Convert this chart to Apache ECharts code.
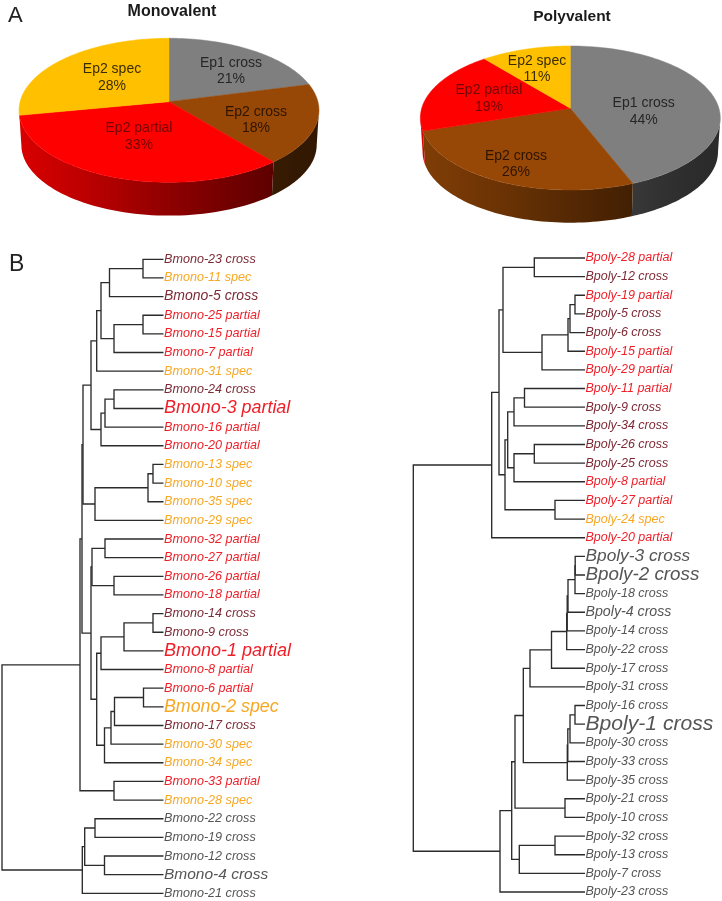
<!DOCTYPE html>
<html>
<head>
<meta charset="utf-8">
<style>html,body{margin:0;padding:0;background:#fff}#main{width:722px;height:901px}</style>
<script src="https://cdn.jsdelivr.net/npm/echarts@6/dist/echarts.min.js"></script>
</head>
<body>
<div id="main"></div>
<script>
// ---------- data ----------
const sliceNames = ['Ep1 cross', 'Ep2 cross', 'Ep2 partial', 'Ep2 spec'];
const monovalentShares = [21, 18, 33, 28];
const polyvalentShares = [44, 26, 19, 11];

// Dendrograms: [branch position, upper child, lower child]; a string is a leaf.
const monoTree = [0,
  [78,
    [80,
      [81,
        [89,
          [94.7,
            [99,
              [107.5, [141, 'Bmono-23 cross', 'Bmono-11 spec'], 'Bmono-5 cross'],
              [112, [141, 'Bmono-25 partial', 'Bmono-15 partial'], 'Bmono-7 partial']],
            'Bmono-31 spec'],
          [99,
            [103, [112, 'Bmono-24 cross', 'Bmono-3 partial'], 'Bmono-16 partial'],
            'Bmono-20 partial']],
        [93, [146, [151, 'Bmono-13 spec', 'Bmono-10 spec'], 'Bmono-35 spec'], 'Bmono-29 spec']],
      [89,
        [90, [103, 'Bmono-32 partial', 'Bmono-27 partial'], [112, 'Bmono-26 partial', 'Bmono-18 partial']],
        [94.7,
          [99, [122, [151, 'Bmono-14 cross', 'Bmono-9 cross'], 'Bmono-1 partial'], 'Bmono-8 partial'],
          [102.5,
            [109, [112.5, [141.5, 'Bmono-6 partial', 'Bmono-2 spec'], 'Bmono-17 cross'], 'Bmono-30 spec'],
            'Bmono-34 spec']]]],
    [112, 'Bmono-33 partial', 'Bmono-28 spec']],
  [80.3,
    [82.7, [93, 'Bmono-22 cross', 'Bmono-19 cross'], [102.5, 'Bmono-12 cross', 'Bmono-4 cross']],
    'Bmono-21 cross']];

const polyTree = [0,
  [78.4,
    [85.7,
      [89.7,
        [121, 'Bpoly-28 partial', 'Bpoly-12 cross'],
        [128.7, [154.7, [156.7, [161.7, 'Bpoly-19 partial', 'Bpoly-5 cross'], 'Bpoly-6 cross'], 'Bpoly-15 partial'], 'Bpoly-29 partial']],
      [91.7,
        [94.4,
          [100.7, [111.2, 'Bpoly-11 partial', 'Bpoly-9 cross'], 'Bpoly-34 cross'],
          [100.7, [121, 'Bpoly-26 cross', 'Bpoly-25 cross'], 'Bpoly-8 partial']],
        [141.7, 'Bpoly-27 partial', 'Bpoly-24 spec']]],
    'Bpoly-20 partial'],
  [86.7,
    [98.4,
      [101.7,
        [110,
          [116.7,
            [138.2,
              [153.4, [153.9, [154.7, [161.7, [161.9, 'Bpoly-3 cross', 'Bpoly-2 cross'], 'Bpoly-18 cross'], 'Bpoly-4 cross'], 'Bpoly-14 cross'], 'Bpoly-22 cross'],
              'Bpoly-17 cross'],
            'Bpoly-31 cross'],
          [154, [154.5, [156.7, [161.7, 'Bpoly-16 cross', 'Bpoly-1 cross'], 'Bpoly-30 cross'], 'Bpoly-33 cross'], 'Bpoly-35 cross']],
        [151.7, 'Bpoly-21 cross', 'Bpoly-10 cross']],
      [106, [141.7, 'Bpoly-32 cross', 'Bpoly-13 cross'], 'Bpoly-7 cross']],
    'Bpoly-23 cross']];

// ---------- styles and layout ----------
const sliceColors = {'Ep1 cross': [127,127,127], 'Ep2 cross': [151,72,6], 'Ep2 partial': [255,0,0], 'Ep2 spec': [255,192,0]};
const sliceTextColors = {'Ep1 cross': '#262626', 'Ep2 cross': '#2e1400', 'Ep2 partial': '#700606', 'Ep2 spec': '#3a2c00'};
const pieLayouts = [
  {cx: 169, apexY: 101.7, c: 148.9, b: 71, k: -0.1194, apexY2: 136.2,
   labelAt: {'Ep1 cross': [62, -30.5], 'Ep2 cross': [87, 18.5], 'Ep2 partial': [-30, 35], 'Ep2 spec': [-57, -24]}},
  {cx: 570.3, apexY: 108.3, c: 148.6, b: 70.7, k: -0.1347, apexY2: 142.2,
   labelAt: {'Ep1 cross': [73.4, 3.5], 'Ep2 cross': [-54.3, 56], 'Ep2 partial': [-81.3, -9.5], 'Ep2 spec': [-33.3, -39]}}
];
const wallShade = [[0, .85], [.25, .72], [.5, .56], [.75, .42], [.87, .36], [1, .33]];
const leafSizeMono = {'Bmono-5 cross': 14, 'Bmono-3 partial': 17.9, 'Bmono-1 partial': 18, 'Bmono-2 spec': 17.8, 'Bmono-4 cross': 15.5};
const leafSizePoly = {'Bpoly-3 cross': 17.3, 'Bpoly-2 cross': 18.8, 'Bpoly-4 cross': 14.2, 'Bpoly-1 cross': 21.1};
const FONT = '"Liberation Sans", Arial, Helvetica, sans-serif';
const labelColors = {partial: '#ee1f28', spec: '#f7a823', cross: '#7c2a36', outgroup: '#555555'};

// ---------- pie projection ----------
function rim(p, theta, bottom) {
  const u = Math.sin(theta), v = -Math.cos(theta), w = 1 + p.k * v;
  const s = bottom ? 0.985 : 1;
  return [p.cx + s * p.c * u / w, (bottom ? p.apexY2 : p.apexY) + s * p.b * v / w];
}
function shadeAt(t) {
  t = Math.max(0, Math.min(1, t));
  for (let i = 1; i < wallShade.length; i++) {
    if (t <= wallShade[i][0]) {
      const a = wallShade[i - 1], b = wallShade[i];
      return a[1] + (b[1] - a[1]) * (t - a[0]) / (b[0] - a[0]);
    }
  }
  return wallShade[wallShade.length - 1][1];
}
function pieSeries(names, values, p) {
  const total = values.reduce((a, b) => a + b, 0);
  let acc = 0;
  const spans = values.map(v => { const s = [acc / total * 2 * Math.PI, (acc + v) / total * 2 * Math.PI]; acc += v; return s; });
  const wallFrom = Math.PI / 2 + Math.asin(-p.k), wallTo = 3 * Math.PI / 2 - Math.asin(-p.k);
  return {
    type: 'custom', coordinateSystem: 'none', silent: true, animation: false,
    data: values.map((v, i) => ({name: names[i], value: v})),
    renderItem(params) {
      const i = params.dataIndex, [a0, a1] = spans[i], name = names[i], rgb = sliceColors[name];
      const css = 'rgb(' + rgb.join(',') + ')';
      const children = [];
      const f0 = Math.max(a0, wallFrom), f1 = Math.min(a1, wallTo);
      if (f1 > f0) {
        const top = [], bot = [];
        for (let j = 0; j <= 60; j++) {
          const th = f0 + (f1 - f0) * j / 60;
          top.push(rim(p, th, false)); bot.push(rim(p, th, true));
        }
        const pts = top.concat(bot.reverse());
        const xs = pts.map(q => q[0]), x0 = Math.min(...xs), x1 = Math.max(...xs);
        const stops = [];
        for (let j = 0; j <= 8; j++) {
          const o = j / 8, t = (x0 + (x1 - x0) * o - (p.cx - p.c)) / (2 * p.c), sh = shadeAt(t);
          stops.push({offset: o, color: 'rgb(' + rgb.map(c => Math.round(c * sh)).join(',') + ')'});
        }
        children.push({type: 'polygon', z2: 1, shape: {points: pts},
          style: {fill: new echarts.graphic.LinearGradient(0, 0, 1, 0, stops)}});
      }
      const face = [[p.cx, p.apexY]];
      for (let j = 0; j <= 90; j++) face.push(rim(p, a0 + (a1 - a0) * j / 90, false));
      children.push({type: 'polygon', z2: 2, shape: {points: face}, style: {fill: css, stroke: css, lineWidth: 0.5}});
      const at = p.labelAt[name];
      children.push({type: 'text', z2: 5, style: {
        text: name + '\n' + values[i] + '%', x: p.cx + at[0], y: p.apexY + at[1],
        align: 'center', verticalAlign: 'middle', lineHeight: 16.6,
        font: '14px ' + FONT, fill: sliceTextColors[name]}});
      return {type: 'group', children};
    }
  };
}

// ---------- dendrogram layout ----------
function layoutTree(tree) {
  const leaves = [], brackets = [];
  const clades = {};
  function walk(node, clade) {
    if (typeof node === 'string') {
      const y = leaves.length;
      leaves.push(node); clades[node] = clade;
      return {x: null, y};
    }
    const a = walk(node[1], clade === null ? 'upper' : clade);
    const b = walk(node[2], clade === null ? 'lower' : clade);
    brackets.push({a, b, x: node[0]});
    return {x: node[0], y: (a.y + b.y) / 2};
  }
  walk(tree, null);
  return {leaves, clades, brackets};
}
function treeSeries(tree, gridIndex, tipX, sizes, baseSize) {
  const t = layoutTree(tree);
  const rows = t.brackets.map(b => [
    b.a.x === null ? tipX : b.a.x, b.a.y, b.x, b.b.y, b.b.x === null ? tipX : b.b.x
  ]);
  return [{
    type: 'custom', xAxisIndex: gridIndex, yAxisIndex: gridIndex, silent: true, animation: false, clip: false,
    data: rows, encode: {x: [0, 2, 4], y: [1, 3]},
    renderItem(params, api) {
      const p1 = api.coord([api.value(0), api.value(1)]);
      const p2 = api.coord([api.value(2), api.value(1)]);
      const p3 = api.coord([api.value(2), api.value(3)]);
      const p4 = api.coord([api.value(4), api.value(3)]);
      return {type: 'polyline', shape: {points: [p1, p2, p3, p4]},
        style: {stroke: '#2b2b2b', lineWidth: 1.35, fill: null, lineJoin: 'miter'}};
    }
  }, {
    type: 'scatter', xAxisIndex: gridIndex, yAxisIndex: gridIndex, silent: true, animation: false, symbolSize: 0, clip: false,
    itemStyle: {opacity: 1},
    data: t.leaves.map((name, i) => {
      const kind = name.split(' ')[1];
      const color = (t.clades[name] === 'lower') ? labelColors.outgroup : labelColors[kind];
      return {name, value: [tipX, i], label: {
        show: true, position: 'right', distance: 0.5, formatter: name, fontFamily: FONT, fontStyle: 'italic',
        fontSize: sizes[name] || baseSize, color, opacity: 1}};
    })
  }];
}

// ---------- chart ----------
const chart = echarts.init(document.getElementById('main'), null, {renderer: 'canvas'});
const titleStyle = {fontFamily: FONT, fontWeight: 'bold', color: '#1a1a1a'};
chart.setOption({
  backgroundColor: '#fff',
  animation: false,
  title: [
    {text: 'Monovalent', left: 167, top: -1.5, textAlign: 'center', textStyle: {...titleStyle, fontSize: 16}},
    {text: 'Polyvalent', left: 567, top: 4, textAlign: 'center', textStyle: {...titleStyle, fontSize: 15.5}},
    {text: 'A', left: 3, top: 0, textStyle: {fontFamily: FONT, fontWeight: 'normal', fontSize: 22, color: '#222'}},
    {text: 'B', left: 4, top: 248, textStyle: {fontFamily: FONT, fontWeight: 'normal', fontSize: 23, color: '#222'}}
  ],
  grid: [
    {left: 2, top: 259.3, width: 161.5, height: 634},
    {left: 413.3, top: 258, width: 171.7, height: 634}
  ],
  xAxis: [
    {gridIndex: 0, type: 'value', min: 0, max: 161.5, show: false},
    {gridIndex: 1, type: 'value', min: 0, max: 171.7, show: false}
  ],
  yAxis: [
    {gridIndex: 0, type: 'value', min: 0, max: 34, inverse: true, show: false},
    {gridIndex: 1, type: 'value', min: 0, max: 34, inverse: true, show: false}
  ],
  series: [
    pieSeries(sliceNames, monovalentShares, pieLayouts[0]),
    pieSeries(sliceNames, polyvalentShares, pieLayouts[1]),
    ...treeSeries(monoTree, 0, 161.5, leafSizeMono, 12.6),
    ...treeSeries(polyTree, 1, 171.7, leafSizePoly, 12.5)
  ]
});
</script>
</body>
</html>
